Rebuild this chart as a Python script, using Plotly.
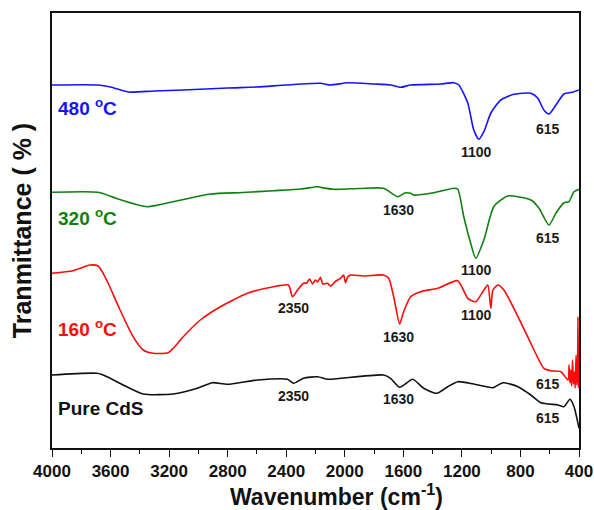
import plotly.graph_objects as go

# ---- data (wavenumber cm^-1, transmittance in arbitrary offset units) ----
wn_480 = [4000, 3685, 3600, 3480, 3300, 3103, 2800, 2597, 2400, 2166, 2097, 1981, 1800, 1687, 1618, 1550,
          1345, 1255, 1221, 1160, 1119, 1084, 1050, 1002, 934, 845, 729, 681, 640, 605, 571, 503, 440, 400]
t_480 = [363, 363, 361, 356, 357, 358, 360, 361, 363, 364.7, 363, 365.3, 364, 363, 360.7, 363,
         364, 365.3, 363, 345, 318, 308.7, 316.3, 335, 348, 353.7, 354.7, 349.7, 338, 334, 340, 354, 356, 358]

wn_320 = [4000, 3685, 3550, 3350, 3150, 2919, 2700, 2487, 2300, 2186, 2166, 2077, 1900, 1735, 1639, 1590, 1550,
          1529, 1392, 1255, 1228, 1187, 1146, 1105, 1050, 982, 886, 729, 674, 605, 557, 503, 469, 434, 400]
t_320 = [255.7, 255.7, 249, 241.3, 247, 254, 255.5, 257.3, 259, 261.3, 260.7, 258.7, 259.5, 259.7, 251.3, 255, 254.7,
         253, 255.3, 259.7, 258.7, 231.3, 208, 189.7, 208, 241.3, 252, 248, 240, 223, 235, 245.3, 246.3, 256.3, 258.7]

wn_160 = [4000, 3856, 3740, 3685, 3651, 3617, 3535, 3446, 3377, 3309, 3206, 3172, 3103, 2987, 2850, 2665, 2487,
          2385, 2357, 2323, 2282, 2260, 2240, 2220, 2200, 2186, 2166, 2150, 2118, 2097, 2060, 2029, 2008, 1995,
          1980, 1960, 1871, 1735, 1700, 1666, 1625, 1598, 1550, 1481, 1365, 1228, 1160, 1105, 1050, 1023, 1002,
          988, 954, 913, 817, 729, 640, 592, 523, 475, 468, 462, 455, 450, 444, 438, 432, 426, 420, 415, 410,
          407, 404, 401, 400]
t_160 = [174.7, 177.3, 183, 182, 174.7, 165, 138, 111.3, 98, 94.7, 95.3, 99.7, 111.3, 128, 141.3, 154.7, 161.3,
         163, 151.3, 158, 164.7, 165, 169, 164, 168, 166, 170.7, 164, 164.7, 162, 167, 169.7, 173, 165.3,
         171, 173, 172, 173, 169.7, 151.3, 124, 136.3, 151.3, 156.3, 159.7, 167.3, 149.7, 146.3, 158, 163, 139.7,
         158, 163, 158, 131.3, 104.7, 79.7, 77.3, 76.3, 68, 83, 65, 78, 62, 88, 64, 76, 60, 93, 63, 78,
         131, 60, 88, 61]

wn_cds = [4000, 3692, 3624, 3514, 3377, 3172, 3008, 2905, 2802, 2597, 2392, 2350, 2282, 2186, 2118, 2029,
          1735, 1687, 1625, 1536, 1461, 1372, 1297, 1228, 1119, 988, 920, 817, 729, 660, 544, 503, 462, 434, 400]
t_cds = [73, 74.7, 71.3, 63, 54, 54, 59.7, 65.3, 63.7, 68, 68.7, 64.7, 69.7, 71.3, 68.7, 69.7,
         73, 69.7, 60.7, 68.7, 59.7, 54.7, 61.3, 66.3, 64, 60.3, 65.3, 61.3, 53, 45.3, 43, 41.3, 48.7, 41.3, 19.7]

series_names = ["480 <sup>o</sup>C", "320 <sup>o</sup>C", "160 <sup>o</sup>C", "Pure CdS"]
series_colors = ["#1414ff", "#0f800f", "#ff0a0a", "#111111"]
series_label_y = [341, 231, 120, 40]

# peak labels: (wavenumber, y, text)
peak_labels = [
    (1100, 296, "1100"), (615, 319, "615"),
    (1630, 238, "1630"), (1100, 178, "1100"), (615, 210, "615"),
    (2350, 140, "2350"), (1630, 111, "1630"), (1100, 133, "1100"), (615, 64, "615"),
    (2350, 52, "2350"), (1630, 49, "1630"), (615, 30, "615"),
]
x_ticks = [4000, 3600, 3200, 2800, 2400, 2000, 1600, 1200, 800, 400]

FONT = "Arial, Liberation Sans, sans-serif"

fig = go.Figure()
for wn, t, name, col in zip([wn_480, wn_320, wn_160, wn_cds], [t_480, t_320, t_160, t_cds],
                            series_names, series_colors):
    fig.add_trace(go.Scatter(x=wn, y=t, mode="lines", name=name,
                             line=dict(color=col, width=1.6, shape="spline", smoothing=0.6),
                             showlegend=False))

for name, col, yl in zip(series_names, series_colors, series_label_y):
    fig.add_annotation(x=3970, y=yl, text=name, showarrow=False, xanchor="left", yanchor="middle",
                       font=dict(family=FONT, size=19, color=col, weight="bold"))

for wx, wy, txt in peak_labels:
    fig.add_annotation(x=wx, y=wy, text=txt, showarrow=False, xanchor="center", yanchor="middle",
                       font=dict(family=FONT, size=14, color="#1a1a1a", weight="bold"))

# x-axis title (slightly right of centre, as in the reference)
fig.add_annotation(xref="paper", yref="paper", x=0.54, y=-0.108, yanchor="middle",
                   text="Wavenumber (cm<sup>-1</sup>)", showarrow=False,
                   font=dict(family=FONT, size=23, color="#111", weight="bold"))

fig.update_layout(
    width=594, height=510,
    margin=dict(l=52, r=15, t=13, b=62),
    paper_bgcolor="white", plot_bgcolor="white",
    xaxis=dict(range=[4000, 400], tickvals=x_ticks,
               ticks="outside", ticklen=7, tickwidth=1.3, tickcolor="#111",
               minor=dict(dtick=200, tick0=0, ticks="outside", ticklen=4, tickwidth=1.3, tickcolor="#111"),
               showline=True, linecolor="#111", linewidth=1.5, mirror=True, showgrid=False, zeroline=False,
               tickfont=dict(family=FONT, size=17, color="#111", weight="bold"),
               automargin=False),
    yaxis=dict(range=[0, 435], showticklabels=False, ticks="", showline=True, linecolor="#111", linewidth=1.5,
               mirror=True, showgrid=False, zeroline=False,
               title=dict(text="Tranmittance ( % )", standoff=12,
                          font=dict(family=FONT, size=25, color="#111", weight="bold")),
               automargin=False),
)

fig.write_html("out.html", config={"displayModeBar": False},
               post_script="document.body.style.margin='0';")
